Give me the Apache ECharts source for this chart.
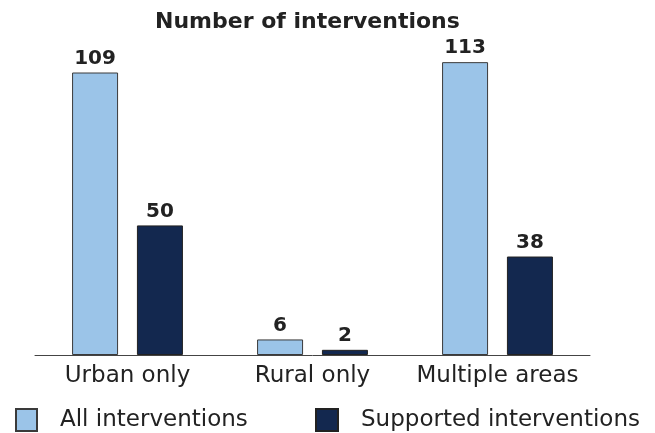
<!DOCTYPE html>
<html>
<head>
<meta charset="utf-8">
<script src="https://cdn.jsdelivr.net/npm/echarts@6/dist/echarts.min.js"></script>
<style>
  html, body { margin: 0; padding: 0; background: #fff; }
  #chart { width: 655px; height: 433px; }
</style>
</head>
<body>
<div id="chart"></div>
<script>
const categories = ['Urban only', 'Rural only', 'Multiple areas'];
const allInterventions = [109, 6, 113];
const supportedInterventions = [50, 2, 38];
const seriesNames = ['All interventions', 'Supported interventions'];

const FONT = 'DejaVu Sans';
const LIGHT = '#9bc4e8';
const NAVY = '#13284f';

const chart = echarts.init(document.getElementById('chart'), null, { renderer: 'canvas' });

const labelStyle = {
  show: true,
  position: 'top',
  distance: 4,
  fontFamily: FONT,
  fontWeight: 'bold',
  fontSize: 20,
  color: '#222'
};

const legendText = { fontFamily: FONT, fontSize: 23, color: '#222', padding: [0, 0, 0, 18] };

chart.setOption({
  animation: false,
  backgroundColor: '#fff',
  title: {
    text: 'Number of interventions',
    left: 150,
    top: 6,
    textStyle: { fontFamily: FONT, fontWeight: 'bold', fontSize: 22, color: '#222' }
  },
  legend: [
    {
      data: [seriesNames[0]],
      left: 15, top: 408, padding: 0,
      itemWidth: 21, itemHeight: 22,
      icon: 'rect',
      textStyle: legendText
    },
    {
      data: [seriesNames[1]],
      left: 315, top: 408, padding: 0,
      itemWidth: 22, itemHeight: 22,
      icon: 'rect',
      textStyle: legendText
    }
  ],
  grid: { left: 35, right: 65, top: 44, bottom: 78 },
  xAxis: {
    type: 'category',
    data: categories,
    axisLine: { lineStyle: { color: '#444', width: 1 } },
    axisTick: { show: false },
    axisLabel: { interval: 0, fontFamily: FONT, fontSize: 23, color: '#222', margin: 10 }
  },
  yAxis: {
    type: 'value',
    min: 0,
    max: 120,
    show: false,
    splitLine: { show: false }
  },
  series: [
    {
      name: seriesNames[0],
      type: 'bar',
      data: allInterventions,
      barWidth: 46,
      barGap: '41%',
      itemStyle: { color: LIGHT, borderColor: '#3a3a3a', borderWidth: 1 },
      label: labelStyle
    },
    {
      name: seriesNames[1],
      type: 'bar',
      data: supportedInterventions,
      barWidth: 46,
      itemStyle: { color: NAVY, borderColor: '#222', borderWidth: 1 },
      label: labelStyle
    }
  ]
});
</script>
</body>
</html>
